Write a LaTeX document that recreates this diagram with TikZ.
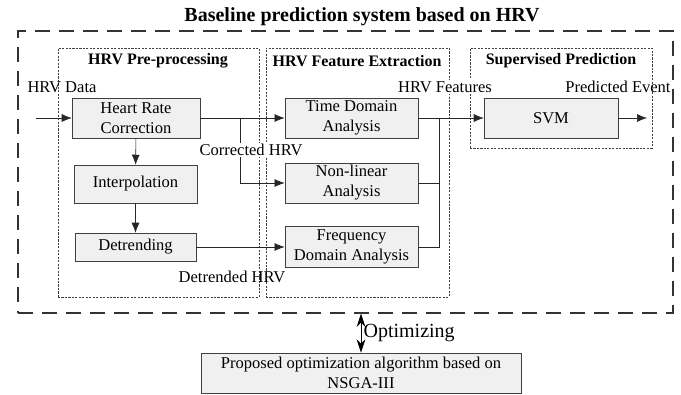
\documentclass[tikz,border=0pt]{standalone}
\usepackage{fontspec}
\setmainfont{Liberation Serif}
\usetikzlibrary{arrows.meta,positioning,calc}
\tikzset{
  proc/.style={rectangle, draw=black!75, fill=black!6, align=center,
               font=\fontsize{12.4}{15}\selectfont, inner sep=1pt},
  stage/.style={rectangle, draw=black!75, thin, dash pattern=on 1.6pt off 1pt},
  frame/.style={rectangle, draw=black!80, line width=0.8pt, dash pattern=on 11pt off 7pt},
  flow/.style={-{Latex[length=7.5pt,width=6pt]}, thin, black!85},
  optim/.style={{Stealth[length=10pt,width=6.5pt]}-{Stealth[length=10pt,width=6.5pt]}, semithick},
  lbl/.style={font=\fontsize{12.4}{14}\selectfont, inner sep=1pt},
  hdr/.style={font=\bfseries\fontsize{12}{14}\selectfont, inner sep=1pt}
}
\begin{document}
\begin{tikzpicture}[x=0.75pt,y=-0.75pt]
\useasboundingbox (0,0) rectangle (681,394);

\node[frame, minimum width=491.25pt, minimum height=211.5pt] (sistema) at (345.5,172) {};
\node[font=\bfseries\fontsize{15}{17}\selectfont, inner sep=1pt] (titulo) at (362,17)
  {Baseline prediction system based on HRV};

\node[stage, minimum width=150.75pt, minimum height=186.75pt] (pre) at (158.5,172.5) {};
\node[stage, minimum width=137.25pt, minimum height=186.75pt] (feat) at (357.5,172.5) {};
\node[stage, minimum width=136.5pt, minimum height=75pt] (sup) at (561,98) {};

\node[hdr] (hpre) at (158,61) {HRV Pre-processing};
\node[hdr] (hfeat) at (357,61) {HRV Feature Extraction};
\node[hdr] (hsup) at (561,61) {Supervised Prediction};

\node[proc, minimum width=96pt, minimum height=30pt] (hrc) at (136,118) {Heart Rate\\Correction};
\node[proc, minimum width=92pt, minimum height=28.5pt] (interp) at (135.5,184) {Interpolation};
\node[proc, minimum width=91pt, minimum height=21pt] (detr) at (135.5,247) {Detrending};

\node[proc, minimum width=100pt, minimum height=30pt] (time) at (351.5,118) {Time Domain\\Analysis};
\node[proc, minimum width=100pt, minimum height=30pt] (nonlin) at (351.5,183) {Non-linear\\Analysis};
\node[proc, minimum width=100pt, minimum height=30.5pt] (freq) at (351.5,247) {Frequency\\Domain Analysis};

\node[proc, minimum width=100.5pt, minimum height=30pt] (svm) at (551,118) {SVM};

\node[proc, minimum width=240pt, minimum height=30pt] (nsga) at (361,373)
  {Proposed optimization algorithm based on\\NSGA-III};

\coordinate (entrada) at (36,118);
\coordinate (rama) at (240,118);
\coordinate (junta) at (439,118);
\coordinate (salida) at (647,118);

\draw[flow] (entrada) -- (hrc);
\draw[flow] (hrc) -- (time);
\draw[flow] (rama) |- (nonlin.west);
\draw[flow] (hrc) -- (interp);
\draw[flow] (interp) -- (detr);
\draw[flow] (detr) -- (freq);
\draw[flow] (time) -- (svm);
\draw[thin, black!85] (nonlin.east) -| (junta);
\draw[thin, black!85] (freq.east) -| (junta);
\draw[flow] (svm) -- (salida);
\draw[optim] (nsga.north |- sistema.south) -- (nsga.north);

\node[lbl] (datos) at (62,87) {HRV Data};
\node[lbl, fill=white] (corr) at (251,150) {Corrected HRV};
\node[lbl] (detrhrv) at (232,277) {Detrended HRV};
\node[lbl, fill=white] (carac) at (445,87) {HRV Features};
\node[lbl] (evento) at (618,87) {Predicted Event};
\node[anchor=west, font=\fontsize{15}{17}\selectfont, inner sep=1pt] (optz) at (362,333) {Optimizing};
\end{tikzpicture}
\end{document}
